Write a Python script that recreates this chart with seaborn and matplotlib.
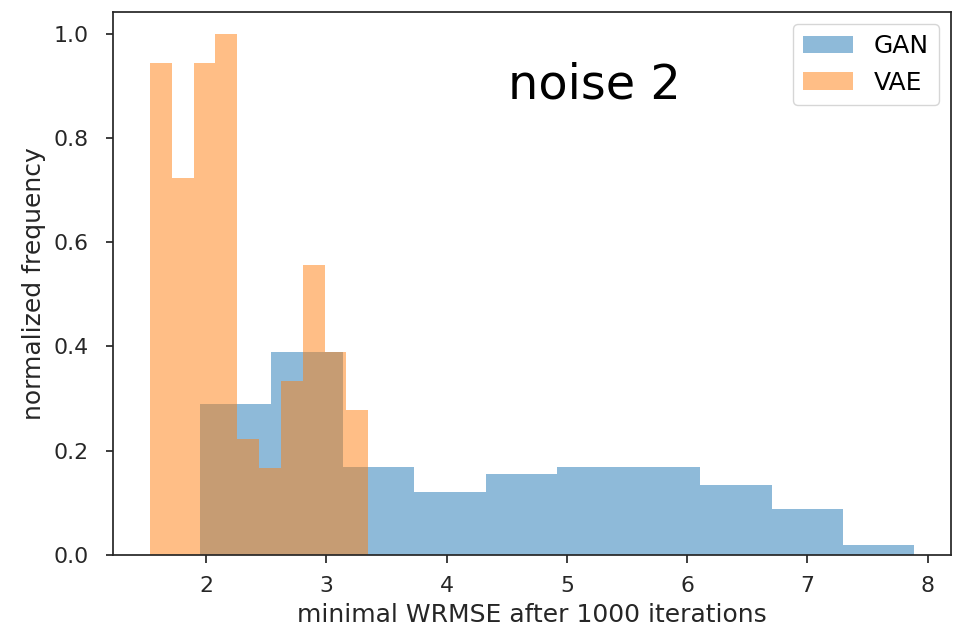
import numpy as np
import pandas as pd
import matplotlib
matplotlib.use("Agg")
import matplotlib.pyplot as plt
import seaborn as sns

# ---- data ----
gan_range = (1.95, 7.89)
gan_heights = [0.289, 0.389, 0.168, 0.121, 0.155, 0.168, 0.168, 0.135, 0.088, 0.020]
vae_range = (1.534, 3.349)
vae_heights = [17/18, 13/18, 17/18, 18/18, 4/18, 3/18, 6/18, 10/18, 7/18, 5/18]
series_names = ["GAN", "VAE"]
annotation = "noise 2"
xlabel = "minimal WRMSE after 1000 iterations"
ylabel = "normalized frequency"

def hist_frame(rng, heights, name):
    edges = np.linspace(rng[0], rng[1], len(heights) + 1)
    centers = (edges[:-1] + edges[1:]) / 2
    return pd.DataFrame({"x": centers, "w": heights, "model": name}), edges.tolist()

gan_df, gan_edges = hist_frame(gan_range, gan_heights, series_names[0])
vae_df, vae_edges = hist_frame(vae_range, vae_heights, series_names[1])

tick_fs = 15.8
label_fs = 18.0
plt.rcParams.update({
    "font.family": ["DejaVu Sans"],
    "font.size": tick_fs,
    "axes.linewidth": 1.25,
    "xtick.major.width": 1.25,
    "ytick.major.width": 1.25,
    "xtick.major.size": 5.4,
    "ytick.major.size": 5.4,
})

fig = plt.figure(figsize=(9.59, 6.30), dpi=100)
ax = fig.add_axes([113.3 / 959, 75 / 630, (951 - 113.3) / 959, (555 - 11.7) / 630])

sns.histplot(data=gan_df, x="x", weights="w", bins=gan_edges, stat="count",
             color="#1f77b4", alpha=0.5, linewidth=0, ax=ax, label=series_names[0])
sns.histplot(data=vae_df, x="x", weights="w", bins=vae_edges, stat="count",
             color="#ff7f0e", alpha=0.5, linewidth=0, ax=ax, label=series_names[1])

ax.set_xlim(1.229, 8.194)
ax.set_ylim(0, 1.042)
ax.set_xticks([2, 3, 4, 5, 6, 7, 8])
ax.set_yticks([0.0, 0.2, 0.4, 0.6, 0.8, 1.0])
ax.set_yticklabels(["0.0", "0.2", "0.4", "0.6", "0.8", "1.0"])
ax.tick_params(labelsize=tick_fs, colors="#262626", labelcolor="#262626")
ax.tick_params(axis="x", pad=9.5)
ax.tick_params(axis="y", pad=12.5)
ax.set_xlabel(xlabel, fontsize=label_fs, color="#262626", labelpad=5)
ax.set_ylabel(ylabel, fontsize=label_fs, color="#262626", labelpad=5)
for s in ax.spines.values():
    s.set_color("#262626")

ax.text(0.574, 0.866, annotation, transform=ax.transAxes, fontsize=34.5,
        ha="center", va="center", color="black")

leg = ax.legend(loc="upper right", fontsize=label_fs, frameon=True,
                handlelength=2.0, borderaxespad=0.5)
leg.get_frame().set_edgecolor("#cccccc")

fig.savefig("out.png", dpi=100)
